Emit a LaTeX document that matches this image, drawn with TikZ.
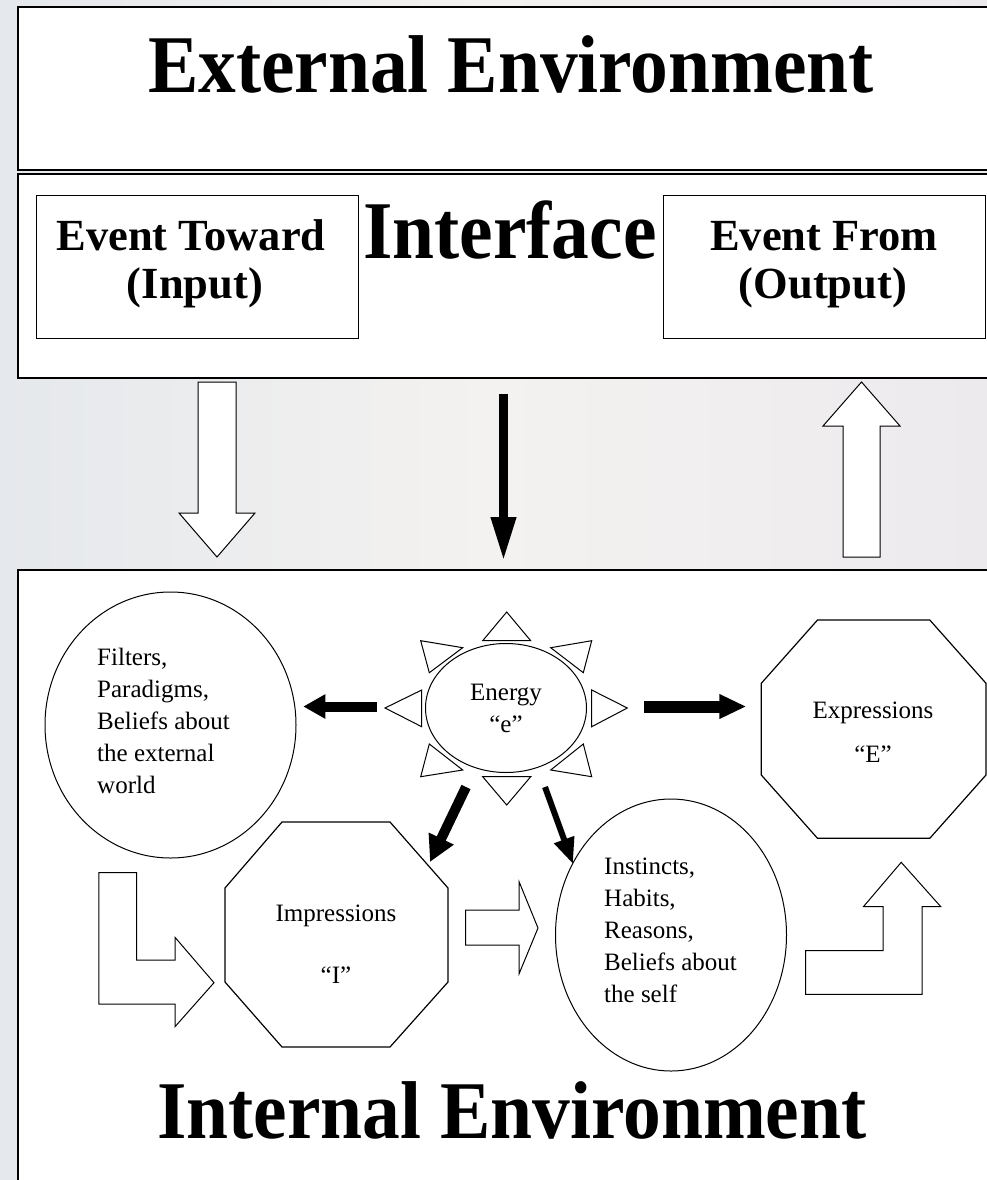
\documentclass[tikz,border=0pt]{standalone}
\usepackage{fontspec}
\usepackage{graphicx}
\setmainfont{Liberation Serif}
\newfontfamily\bodyfont{Liberation Serif}
\usetikzlibrary{arrows.meta,shapes.geometric}
\definecolor{bgl}{RGB}{229,232,236}
\definecolor{bgm}{RGB}{244,242,240}
\definecolor{bgr}{RGB}{236,234,237}
\newcommand{\ttl}[1]{\scalebox{0.92}[1]{#1}}
\begin{document}
\begin{tikzpicture}[x=1pt,y=-1pt,
  box/.style={draw=black,line width=1.4pt,fill=white},
  innerbox/.style={draw=black,line width=1pt,fill=white},
  title/.style={font=\fontsize{82}{86}\selectfont\bfseries,anchor=base,inner sep=0pt},
  evt/.style={font=\fontsize{44.5}{50}\selectfont\bfseries,anchor=base,inner sep=0pt},
  body/.style={font=\bodyfont\fontsize{25}{32}\selectfont,inner sep=0pt},
  hollow/.style={draw=black,line width=1pt,fill=white,line join=miter},
  shp/.style={draw=black,line width=1pt,fill=white},
]
\useasboundingbox (0,0) rectangle (987,1180);
\shade[left color=bgl,right color=bgr,middle color=bgm] (0,0) rectangle (987,1180);

% External environment
\draw[box] (18,7) rectangle (1000,170);
\node[title] (ext) at (511,92.7) {\ttl{External Environment}};

% Interface
\draw[box] (18,174) rectangle (1000,378);
\draw[innerbox] (36,195) rectangle (358,338);
\draw[innerbox] (663,195) rectangle (985,338);
\node[title] (intf) at (510,258) {\ttl{Interface}};
\node[evt] (tow1) at (191,250) {Event Toward};
\node[evt] (tow2) at (195,298) {(Input)};
\node[evt] (frm1) at (824,250) {Event From};
\node[evt] (frm2) at (823,298) {(Output)};

% arrows between interface and internal
\draw[hollow] (198,382) -- (236,382) -- (236,513) -- (255,513) -- (217,557) -- (179,513) -- (198,513) -- cycle;
\draw[hollow] (843,557) -- (880,557) -- (880,426) -- (900,426) -- (861.5,382) -- (823,426) -- (843,426) -- cycle;
\coordinate (m1) at (503.5,394);
\coordinate (m2) at (503.5,562);
\draw[line width=9.5pt,-{Triangle[length=45pt,width=23pt]}] (m1) -- (m2);

% Internal environment
\draw[box] (18,570) rectangle (1000,1200);
\node[title] (int) at (512,1138.3) {\ttl{Internal Environment}};

% Filters
\node[shp,ellipse,minimum width=251pt,minimum height=266pt] (filt) at (170.5,725) {};
\node[body,align=left,anchor=base west] (filtT) at (97,793.3) {Filters,\\Paradigms,\\Beliefs about\\the external\\world};

% Energy with rays
\node[shp,ellipse,minimum width=161pt,minimum height=129pt,body,align=center] (en) at (506,708) {Energy\\“e”};
\draw[shp] (482.7,640.7) -- (530.7,640.7) -- (506.7,612) -- cycle;
\draw[shp] (482.7,776.7) -- (530.7,776.7) -- (506.7,805) -- cycle;
\draw[shp] (591.7,690) -- (591.7,726.7) -- (627.3,708) -- cycle;
\draw[shp] (421.7,690) -- (421.7,726.7) -- (385,708) -- cycle;
\draw[shp] (420.7,640.7) -- (462.7,647.7) -- (429.3,672.7) -- cycle;
\draw[shp] (591.7,640.7) -- (550.7,647.7) -- (583.3,672.7) -- cycle;
\draw[shp] (420.7,776.7) -- (462.7,770) -- (429.3,744) -- cycle;
\draw[shp] (591.7,776.7) -- (550.7,770) -- (583.3,744) -- cycle;

% Expressions
\draw[shp,line width=1.2pt] (817.5,620) -- (929.8,620) -- (986,683.3) -- (986,775) -- (929.8,838.3) -- (817.5,838.3) -- (761.3,775) -- (761.3,683.3) -- cycle;
\node[body,anchor=base] (expT) at (873,718) {Expressions};
\node[body,anchor=base] (expE) at (873,762) {“E”};

% Impressions
\draw[shp,line width=1.2pt] (282,822) -- (390,822) -- (448,888) -- (448,982) -- (390,1047) -- (282,1047) -- (225,982) -- (225,888) -- cycle;
\node[body,anchor=base] (impT) at (336,921) {Impressions};
\node[body,anchor=base] (impI) at (336,983) {“I”};

% Instincts
\node[shp,ellipse,minimum width=231pt,minimum height=272pt] (inst) at (671,935) {};
\node[body,align=left,anchor=base west] (instT) at (604,1002) {Instincts,\\Habits,\\Reasons,\\Beliefs about\\the self};

% hollow block arrows inside
\draw[hollow] (98.8,872.7) -- (136.6,872.7) -- (136.6,960) -- (175,960) -- (175,937.3) -- (214,982.7) -- (175,1026.7) -- (175,1004) -- (98.8,1004) -- cycle;
\draw[hollow] (465.7,910) -- (519.2,910) -- (519.2,882) -- (538,928) -- (519.2,973.5) -- (519.2,945) -- (465.7,945) -- cycle;
\draw[hollow] (805.5,950.7) -- (883,950.7) -- (883,906.7) -- (863.4,906.7) -- (901.2,862.3) -- (940.8,906.7) -- (922,906.7) -- (922,994.3) -- (805.5,994.3) -- cycle;

% black arrows from energy
\coordinate (eFa) at (376.7,706.5);
\coordinate (eFb) at (303.3,706.5);
\coordinate (eEa) at (644,706.5);
\coordinate (eEb) at (746.3,706.5);
\coordinate (eIa) at (466,787);
\coordinate (eIb) at (430,862);
\coordinate (eHa) at (545,787);
\coordinate (eHb) at (573,864);
\draw[line width=10pt,-{Triangle[length=22pt,width=23pt]}] (eFa) -- (eFb);
\draw[line width=12pt,-{Triangle[length=27pt,width=23pt]}] (eEa) -- (eEb);
\draw[line width=10pt,-{Triangle[length=26pt,width=26pt]}] (eIa) -- (eIb);
\draw[line width=6pt,-{Triangle[length=26pt,width=20pt]}] (eHa) -- (eHb);
\end{tikzpicture}
\end{document}
